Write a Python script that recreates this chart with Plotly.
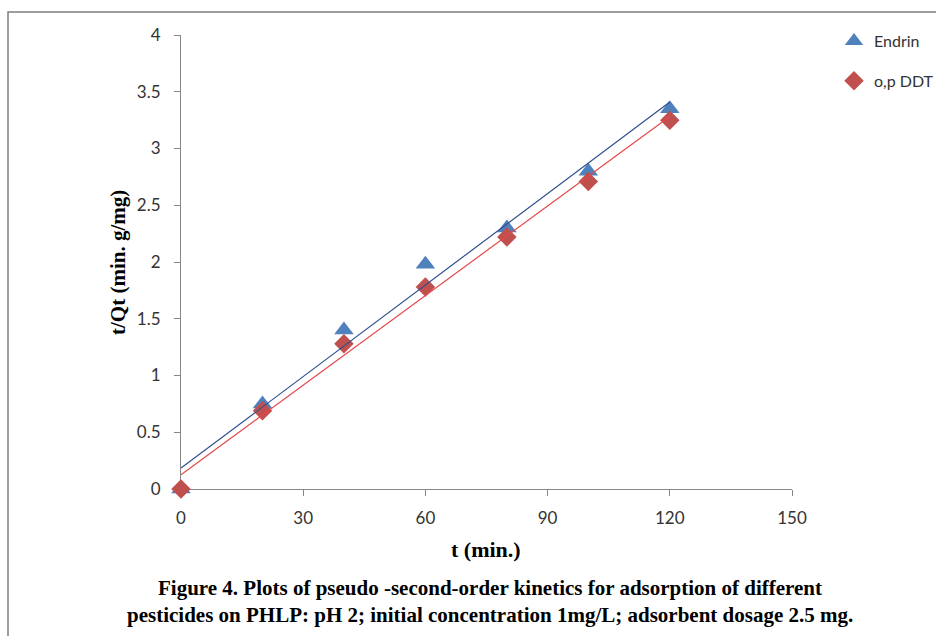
import numpy as np
import plotly.graph_objects as go

t_min = [0, 20, 40, 60, 80, 100, 120]
endrin = [0, 0.75, 1.40, 1.98, 2.30, 2.80, 3.35]
ddt = [0, 0.69, 1.28, 1.78, 2.22, 2.71, 3.25]
x_ticks = [0, 30, 60, 90, 120, 150]
y_ticks = [0, 0.5, 1, 1.5, 2, 2.5, 3, 3.5, 4]
y_tick_labels = ["0", "0.5", "1", "1.5", "2", "2.5", "3", "3.5", "4"]

W, H = 936, 636
L, R, T, B = 181, 792, 35, 489

def fit(x, y):
    s, b = np.polyfit(x, y, 1)
    xs = [min(x), max(x)]
    return xs, [s * v + b for v in xs]

fig = go.Figure()
fig.add_trace(go.Scatter(x=t_min, y=endrin, mode="markers", name="Endrin",
                         legendgroup="a", cliponaxis=False,
                         marker=dict(symbol="triangle-up", size=17, color="#4F81BD")))
fig.add_trace(go.Scatter(x=t_min, y=ddt, mode="markers", name="o,p DDT",
                         legendgroup="b", cliponaxis=False,
                         marker=dict(symbol="diamond", size=15, color="#C0504D")))
ex, ey = fit(t_min, endrin)
dx, dy = fit(t_min, ddt)
fig.add_trace(go.Scatter(x=ex, y=ey, mode="lines", showlegend=False,
                         line=dict(color="#2F4F8F", width=1.2)))
fig.add_trace(go.Scatter(x=dx, y=dy, mode="lines", showlegend=False,
                         line=dict(color="#E5484B", width=1.2)))

tickfont = dict(family="Lato, Open Sans, sans-serif", size=17, color="#333333")
fig.update_layout(
    width=W, height=H,
    margin=dict(l=L, r=W - R, t=T, b=H - B, autoexpand=False),
    paper_bgcolor="white", plot_bgcolor="white",
    xaxis=dict(range=[0, 150], tickvals=x_ticks, showgrid=False, zeroline=False,
               showline=True, linecolor="#868686", linewidth=1,
               ticks="outside", ticklen=6, tickcolor="#868686",
               tickfont=tickfont, ticklabelstandoff=8, layer="below traces"),
    yaxis=dict(range=[0, 4], tickvals=y_ticks, ticktext=y_tick_labels,
               showgrid=False, zeroline=False,
               showline=True, linecolor="#868686", linewidth=1,
               ticks="outside", ticklen=6, tickcolor="#868686",
               tickfont=tickfont, ticklabelstandoff=10, layer="below traces"),
    legend=dict(x=(834 - L) / (R - L), y=1.0 + 11 / (B - T), xanchor="left", yanchor="top",
                font=dict(family="Lato, Open Sans, sans-serif", size=16, color="#333333"),
                tracegroupgap=16, bgcolor="rgba(0,0,0,0)"),
    showlegend=True,
)

serif_b = dict(family="Liberation Serif, Times New Roman, serif", size=21, color="#000000")
fig.add_annotation(text="<b>t/Qt (min. g/mg)</b>", xref="paper", yref="paper",
                   x=(118 - L) / (R - L), y=(B - 263) / (B - T), textangle=-90,
                   showarrow=False, font=serif_b, xanchor="center", yanchor="middle")
fig.add_annotation(text="<b>t (min.)</b>", xref="paper", yref="paper",
                   x=(486 - L) / (R - L), y=(B - 549) / (B - T),
                   showarrow=False, font=dict(serif_b, size=22), xanchor="center", yanchor="middle")
cap_font = dict(family="Liberation Serif, Times New Roman, serif", size=21, color="#000000")
fig.add_annotation(text="<b>Figure 4. Plots of pseudo -second-order kinetics for adsorption of different</b>",
                   xref="paper", yref="paper", x=(490 - L) / (R - L), y=(B - 588) / (B - T),
                   showarrow=False, font=cap_font, xanchor="center", yanchor="middle")
fig.add_annotation(text="<b>pesticides on PHLP: pH 2; initial concentration 1mg/L; adsorbent dosage 2.5 mg.</b>",
                   xref="paper", yref="paper", x=(490 - L) / (R - L), y=(B - 615) / (B - T),
                   showarrow=False, font=cap_font, xanchor="center", yanchor="middle")

# outer frame
fig.add_shape(type="rect", xref="paper", yref="paper",
              x0=(8 - L) / (R - L), x1=(945 - L) / (R - L),
              y0=(B - 645) / (B - T), y1=(B - 12) / (B - T),
              line=dict(color="#7F7F7F", width=1.5), layer="above")

fig.write_html("out.html", config={"displayModeBar": False},
               post_script="document.body.style.margin='0';")
